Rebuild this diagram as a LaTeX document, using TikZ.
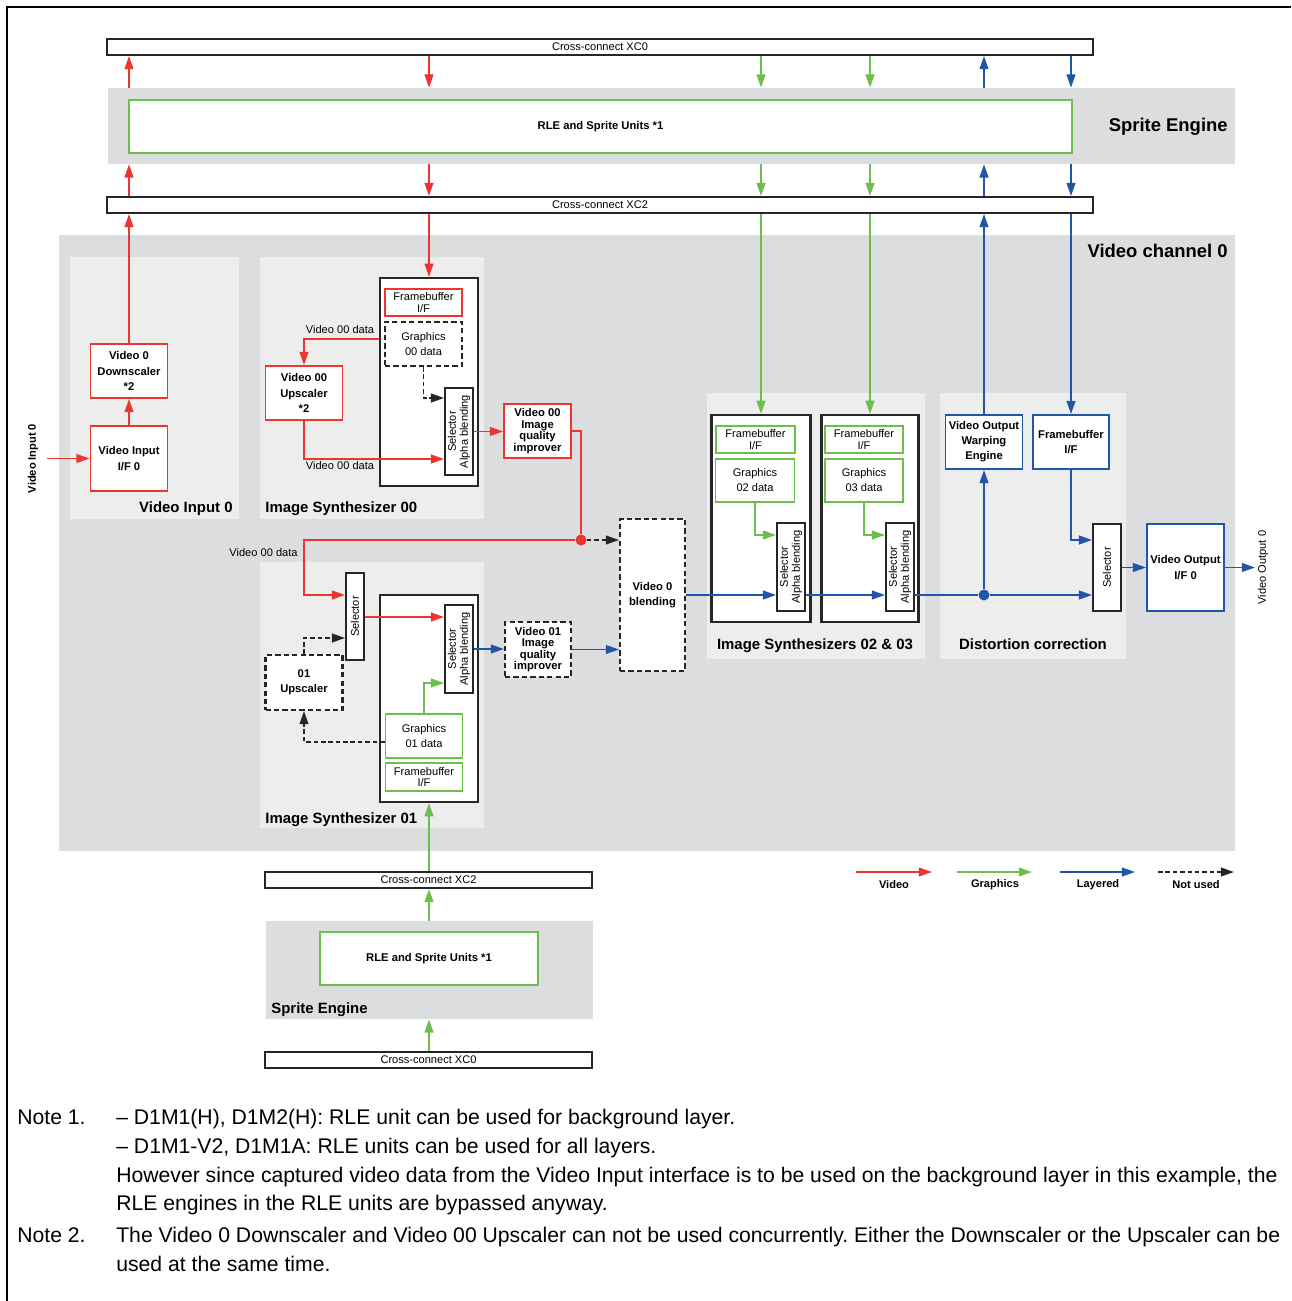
\documentclass[tikz,border=0pt]{standalone}
\usepackage{fontspec}
\setmainfont{Liberation Sans}
\usepackage{tikz}
\usetikzlibrary{
    arrows.meta,
    positioning
}
\frenchspacing
\definecolor{videored}{HTML}{EC3530}
\definecolor{gfxgreen}{HTML}{6CBF4B}
\definecolor{layerblue}{HTML}{1F56A8}
\definecolor{chanbg}{HTML}{DCDDDF}
\definecolor{panelbg}{HTML}{EDEDED}

\newlength{\pxu}
\setlength{\pxu}{0.02cm}

\newcommand{\unitfont}{\fontsize{6.4}{8.6}\selectfont\bfseries}
\newcommand{\iqfont}{\fontsize{6.4}{6.6}\selectfont\bfseries}
\newcommand{\datafont}{\fontsize{6.3}{8.5}\selectfont}
\newcommand{\fbfont}{\fontsize{6.3}{6.6}\selectfont}
\newcommand{\tagfont}{\fontsize{6.3}{7}\selectfont}
\newcommand{\paneltitle}{\fontsize{8.5}{10}\selectfont\bfseries}
\newcommand{\bigtitle}{\fontsize{10.5}{12}\selectfont\bfseries}
\newcommand{\notefont}{\fontsize{12.05}{16.4}\selectfont}

\tikzset{
    wh/.style 2 args={minimum width=#1\pxu, minimum height=#2\pxu},
    area/.style={rectangle, fill=#1, inner sep=0pt},
    area/.default=chanbg,
    area title/.style={inner sep=0pt, font=\paneltitle},
    big title/.style={inner sep=0pt, font=\bigtitle},
    xconnect/.style={
        rectangle, draw=black!85, fill=white, line width=1.1pt,
        inner sep=0pt, font=\tagfont
    },
    unit/.style={
        rectangle, draw=#1, fill=white, line width=1.1pt,
        inner sep=0pt, align=center, font=\unitfont
    },
    unit/.default=black,
    data box/.style={unit=#1, font=\datafont},
    fb box/.style={unit=#1, font=\fbfont},
    unused box/.style={unit=black!85, line width=1.2pt, dash pattern=on 3pt off 1.8pt},
    unused data/.style={unused box, font=\datafont},
    synth box/.style={rectangle, draw=black!85, fill=white, line width=1.3pt, inner sep=0pt},
    sel box/.style={synth box, line width=1.1pt},
    sel text/.style={rotate=90, align=center, inner sep=0pt, font=\fontsize{6.3}{6.8}\selectfont},
    data label/.style={inner sep=0pt, font=\tagfont},
    legend text/.style={inner sep=0pt, font=\tagfont\bfseries},
    port text/.style={rotate=90, inner sep=0pt, font=\tagfont},
    flow/.style={-{Triangle[length=7.5pt, width=5pt]}, line width=1pt, color=#1},
    flow/.default={black},
    video flow/.style={flow=videored},
    graphics flow/.style={flow=gfxgreen},
    layered flow/.style={flow=layerblue},
    layered line/.style={line width=1pt, color=layerblue},
    unused flow/.style={flow=black!85, dash pattern=on 2.6pt off 1.6pt},
    junction/.style={circle, fill=#1, inner sep=0pt, minimum size=11\pxu},
}

\begin{document}
\begin{tikzpicture}[x=0.02cm, y=-0.02cm]
    \useasboundingbox (0,0) rectangle (1291,1301);

    % Frame
    \draw[line width=1.2pt] (7,1301) -- (7,7) -- (1291,7);

    % Sprite engine (top)
    \node[area, wh={1127}{76}] (setop) at (671.5,126) {};
    \node[xconnect, wh={986}{16}] (xc0top) at (600,47) {Cross-connect XC0};
    \node[xconnect, wh={986}{16}] (xc2top) at (600,205) {Cross-connect XC2};
    \node[unit=gfxgreen, line width=0.9pt, wh={943}{53}] (rletop) at (600.5,126.5) {RLE and Sprite Units *1};
    \node[big title, anchor=base east] (setoptitle) at (1228,131.6) {Sprite Engine};

    % Video channel 0
    \node[area, wh={1176}{616}] (vch0) at (647,543) {};
    \node[big title, anchor=base east] (vch0title) at (1228,257.6) {Video channel 0};

    % Video input 0
    \node[area=panelbg, wh={169}{262}] (vin0) at (154.5,388) {};
    \node[area title, anchor=base east] (vin0title) at (233,512.5) {Video Input 0};
    \node[unit=videored, wh={77}{54}] (ds0) at (129,371) {Video 0\\Downscaler\\*2};
    \node[unit=videored, wh={77}{65}] (vif0) at (129,458.5) {Video Input\\I/F 0};
    \node[port text, font=\tagfont\bfseries] (vin0port) at (33,458.5) {Video Input 0};
    \coordinate (vin0src) at (47,458.5);

    % Image synthesizer 00
    \node[area=panelbg, wh={224}{262}] (is00) at (372,388) {};
    \node[area title, anchor=base west] (is00title) at (265,512.5) {Image Synthesizer 00};
    \node[synth box, wh={98}{208}] (is00box) at (429,382) {};
    \node[fb box=videored, wh={77}{27}] (fb00) at (423.5,302.5) {Framebuffer\\I/F};
    \node[unused data, wh={77}{44}] (gfx00) at (423.5,344) {Graphics\\00 data};
    \node[sel box, wh={28}{87}] (sel00) at (459,431.5) {};
    \node[sel text] (sel00text) at (sel00) {Selector\\Alpha blending};
    \node[unit=videored, wh={77}{54}] (ups00) at (304,393) {Video 00\\Upscaler\\*2};
    \node[unit=videored, font=\iqfont, wh={67}{54}] (iq00) at (537.5,431) {Video 00\\Image\\quality\\improver};
    \node[junction=videored] (split00) at (581,540) {};
    \node[data label] (v00a) at (340,330) {Video 00 data};
    \node[data label] (v00b) at (340,466) {Video 00 data};
    \node[data label] (v00c) at (263.5,553) {Video 00 data};

    % Video 0 blending
    \node[unused box, wh={65}{152}] (blend) at (652.5,595) {Video 0\\blending};

    % Image synthesizer 01
    \node[area=panelbg, wh={224}{266}] (is01) at (372,695) {};
    \node[area title, anchor=base west] (is01title) at (265,823.5) {Image Synthesizer 01};
    \node[sel box, wh={18}{87}] (sel01a) at (355,616.5) {};
    \node[sel text] (sel01atext) at (sel01a) {Selector};
    \node[synth box, wh={98}{207}] (is01box) at (429,698.5) {};
    \node[sel box, wh={28}{88}] (sel01b) at (459,649) {};
    \node[sel text] (sel01btext) at (sel01b) {Selector\\Alpha blending};
    \node[data box=gfxgreen, wh={77}{44}] (gfx01) at (424,736) {Graphics\\01 data};
    \node[fb box=gfxgreen, wh={77}{28}] (fb01) at (424,777) {Framebuffer\\I/F};
    \node[unused box, wh={77}{55}] (ups01) at (304,682.5) {01\\Upscaler};
    \node[unused box, font=\iqfont, wh={66}{55}] (iq01) at (538,649.5) {Video 01\\Image\\quality\\improver};

    % Image synthesizers 02 & 03
    \node[area=panelbg, wh={218}{266}] (is23) at (816,526) {};
    \node[area title, anchor=base] (is23title) at (815,649.5) {Image Synthesizers 02 \& 03};
    \node[synth box, wh={99}{207}] (is02box) at (761,518.5) {};
    \node[fb box=gfxgreen, wh={79}{27}] (fb02) at (755.5,439.5) {Framebuffer\\I/F};
    \node[data box=gfxgreen, wh={79}{43}] (gfx02) at (755,480.5) {Graphics\\02 data};
    \node[sel box, wh={28}{88}] (sel02) at (791,567) {};
    \node[sel text] (sel02text) at (sel02) {Selector\\Alpha blending};
    \node[synth box, wh={97}{207}] (is03box) at (870,518.5) {};
    \node[fb box=gfxgreen, wh={78}{27}] (fb03) at (864,439.5) {Framebuffer\\I/F};
    \node[data box=gfxgreen, wh={78}{43}] (gfx03) at (864,480.5) {Graphics\\03 data};
    \node[sel box, wh={28}{88}] (sel03) at (900,567) {};
    \node[sel text] (sel03text) at (sel03) {Selector\\Alpha blending};

    % Distortion correction
    \node[area=panelbg, wh={186}{266}] (dist) at (1033,526) {};
    \node[area title, anchor=base] (disttitle) at (1033,649.5) {Distortion correction};
    \node[unit=layerblue, wh={77}{54}] (warp) at (984,442) {Video Output\\Warping\\Engine};
    \node[unit=layerblue, wh={76}{54}] (fbdc) at (1071,442) {Framebuffer\\I/F};
    \node[sel box, wh={28}{87}] (seldc) at (1107,567.5) {};
    \node[sel text] (seldctext) at (seldc) {Selector};
    \node[junction=layerblue] (split23) at (984,595) {};

    % Video output
    \node[unit=layerblue, wh={77}{87}] (voif) at (1185.5,567.5) {Video Output\\I/F 0};
    \node[port text] (vout0text) at (1263,567.5) {Video Output 0};
    \coordinate (vout0) at (1255,567.5);

    % Sprite engine (bottom)
    \node[xconnect, wh={327}{16}] (xc2bot) at (428.5,880) {Cross-connect XC2};
    \node[area, wh={327}{98}] (sebot) at (429.5,970) {};
    \node[unit=gfxgreen, line width=0.9pt, wh={218}{53}] (rlebot) at (429,958.5) {RLE and Sprite Units *1};
    \node[area title, anchor=base west] (sebottitle) at (271,1013.5) {Sprite Engine};
    \node[xconnect, wh={327}{16}] (xc0bot) at (428.5,1060) {Cross-connect XC0};

    % Cross-connect paths
    \draw[video flow] (ds0.north) -- (ds0.north |- xc2top.south);
    \draw[video flow] (ds0.north |- xc2top.north) -- (ds0.north |- setop.south);
    \draw[video flow] (ds0.north |- setop.north) -- (ds0.north |- xc0top.south);
    \draw[video flow] (is00box.north |- xc0top.south) -- (is00box.north |- setop.north);
    \draw[video flow] (is00box.north |- setop.south) -- (is00box.north |- xc2top.north);
    \draw[video flow] (is00box.north |- xc2top.south) -- (is00box.north);
    \foreach \syn in {is02box, is03box} {
        \draw[graphics flow] (\syn.north |- xc0top.south) -- (\syn.north |- setop.north);
        \draw[graphics flow] (\syn.north |- setop.south) -- (\syn.north |- xc2top.north);
        \draw[graphics flow] (\syn.north |- xc2top.south) -- (\syn.north);
    }
    \draw[layered flow] (warp.north) -- (warp.north |- xc2top.south);
    \draw[layered flow] (warp.north |- xc2top.north) -- (warp.north |- setop.south);
    \draw[layered flow] (warp.north |- setop.north) -- (warp.north |- xc0top.south);
    \draw[layered flow] (fbdc.north |- xc0top.south) -- (fbdc.north |- setop.north);
    \draw[layered flow] (fbdc.north |- setop.south) -- (fbdc.north |- xc2top.north);
    \draw[layered flow] (fbdc.north |- xc2top.south) -- (fbdc.north);
    \draw[graphics flow] (is01box.south |- xc0bot.north) -- (is01box.south |- sebot.south);
    \draw[graphics flow] (is01box.south |- sebot.north) -- (is01box.south |- xc2bot.south);
    \draw[graphics flow] (is01box.south |- xc2bot.north) -- (is01box.south);

    % Video input and synthesizer 00
    \draw[video flow] (vin0src) -- (vif0.west);
    \draw[video flow] (vif0.north) -- (ds0.south);
    \draw[video flow] (is00box.west |- 0,339) -| (ups00.north);
    \draw[video flow] (ups00.south) |- (sel00.west |- 0,459);
    \draw[unused flow] (gfx00.south) |- (sel00.west |- 0,398);
    \draw[video flow] (sel00.east) -- (sel00.east -| iq00.west);
    \draw[videored, line width=1pt] (iq00.east) -| (split00);
    \draw[unused flow] (split00) -- (split00 -| blend.west);
    \draw[video flow] (split00) -| (ups01.north |- 0,595) -- (sel01a.west |- 0,595);

    % Synthesizer 01
    \draw[video flow] (sel01a.east |- 0,617) -- (sel01b.west |- 0,617);
    \draw[unused flow] (ups01.north) |- (sel01a.west |- 0,638);
    \draw[unused flow] (gfx01.west |- 0,742) -| (ups01.south);
    \draw[graphics flow] (gfx01.north) |- (sel01b.west |- 0,683);
    \draw[layered flow] (sel01b.east) -- (sel01b.east -| iq01.west);
    \draw[layered flow] (iq01.east) -- (iq01.east -| blend.west);

    % Synthesizers 02 & 03, distortion correction
    \draw[layered flow] (blend.east) -- (blend.east -| sel02.west);
    \draw[graphics flow] (gfx02.south) |- (sel02.west |- 0,535);
    \draw[graphics flow] (gfx03.south) |- (sel03.west |- 0,535);
    \draw[layered flow] (sel02.east |- 0,595) -- (sel03.west |- 0,595);
    \draw[layered line] (sel03.east |- 0,595) -- (split23);
    \draw[layered flow] (split23) -- (split23 -| seldc.west);
    \draw[layered flow] (split23) -- (warp.south);
    \draw[layered flow] (fbdc.south) |- (seldc.west |- 0,540);
    \draw[layered flow] (seldc.east) -- (seldc.east -| voif.west);
    \draw[layered flow] (voif.east) -- (vout0);

    % Legend
    \coordinate (lgv0) at (856,872);  \coordinate (lgv1) at (932,872);
    \coordinate (lgg0) at (957,872);  \coordinate (lgg1) at (1032,872);
    \coordinate (lgl0) at (1060,872); \coordinate (lgl1) at (1135,872);
    \coordinate (lgn0) at (1158,872); \coordinate (lgn1) at (1234,872);
    \draw[video flow] (lgv0) -- (lgv1);
    \draw[graphics flow] (lgg0) -- (lgg1);
    \draw[layered flow] (lgl0) -- (lgl1);
    \draw[unused flow] (lgn0) -- (lgn1);
    \node[legend text] (lgvtext) at (894,885) {Video};
    \node[legend text] (lggtext) at (995,885) {Graphics};
    \node[legend text] (lgltext) at (1098,885) {Layered};
    \node[legend text] (lgntext) at (1196,885) {Not used};

    % Notes
    \node[anchor=base west, inner sep=0pt, font=\notefont] (notes) at (17,1124.5) {%
        \begin{tabular}[t]{@{}p{1.98cm}@{}l@{}}
            Note 1. & – D1M1(H), D1M2(H): RLE unit can be used for background layer.\\
                    & – D1M1-V2, D1M1A: RLE units can be used for all layers.\\
                    & However since captured video data from the Video Input interface is to be used on the background layer in this example, the\\
                    & RLE engines in the RLE units are bypassed anyway.\\[1.8pt]
            Note 2. & The Video 0 Downscaler and Video 00 Upscaler can not be used concurrently. Either the Downscaler or the Upscaler can be\\
                    & used at the same time.
        \end{tabular}};

\end{tikzpicture}
\end{document}
